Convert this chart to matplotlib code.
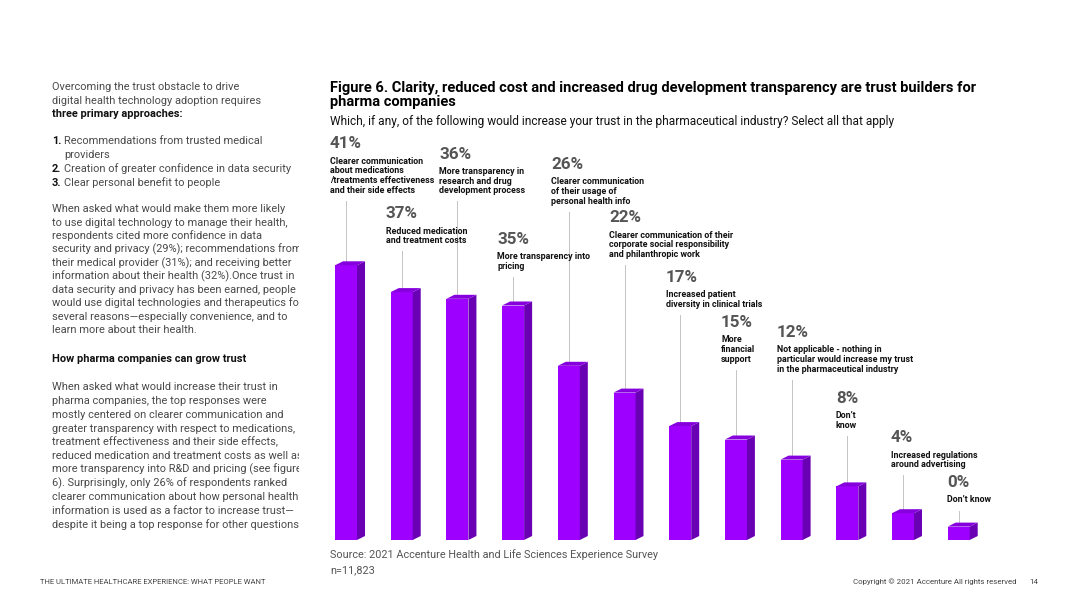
import matplotlib
matplotlib.use("Agg")
import matplotlib.pyplot as plt
from matplotlib.patches import Polygon
from matplotlib.transforms import Bbox

# ---------------- data ----------------
pct_labels = ["41%", "37%", "36%", "35%", "26%", "22%", "17%", "15%", "12%", "8%", "4%", "0%"]
values = [41, 37, 36, 35, 26, 22, 17, 15, 12, 8, 4, 0]
descriptions = [
    ["Clearer communication", "about medications", "/treatments effectiveness", "and their side effects"],
    ["Reduced medication", "and treatment costs"],
    ["More transparency in", "research and drug", "development process"],
    ["More transparency into", "pricing"],
    ["Clearer communication", "of their usage of", "personal health info"],
    ["Clearer communication of their", "corporate social responsibility", "and philanthropic work"],
    ["Increased patient", "diversity in clinical trials"],
    ["More", "financial", "support"],
    ["Not applicable - nothing in", "particular would increase my trust", "in the pharmaceutical industry"],
    ["Don\u2019t", "know"],
    ["Increased regulations", "around advertising"],
    ["Don\u2019t know"],
]

title_lines = ["Figure 6. Clarity, reduced cost and increased drug development transparency are trust builders for",
               "pharma companies"]
subtitle = "Which, if any, of the following would increase your trust in the pharmaceutical industry? Select all that apply"
source_lines = ["Source: 2021 Accenture Health and Life Sciences Experience Survey", "n=11,823"]
footer_left = "THE ULTIMATE HEALTHCARE EXPERIENCE: WHAT PEOPLE WANT"
footer_right = "Copyright \u00a9 2021 Accenture All rights reserved"
page_no = "14"

intro_lines = ["Overcoming the trust obstacle to drive",
               "digital health technology adoption requires"]
intro_bold = "three primary approaches:"
numbered = [("1.", "Recommendations from trusted medical"), ("", "providers"),
            ("2.", "Creation of greater confidence in data security"),
            ("3.", "Clear personal benefit to people")]
para1 = ["When asked what would make them more likely",
         "to use digital technology to manage their health,",
         "respondents cited more confidence in data",
         "security and privacy (29%); recommendations from",
         "their medical provider (31%); and receiving better",
         "information about their health (32%).Once trust in",
         "data security and privacy has been earned, people",
         "would use digital technologies and therapeutics for",
         "several reasons\u2014especially convenience, and to",
         "learn more about their health."]
heading2 = "How pharma companies can grow trust"
para2 = ["When asked what would increase their trust in",
         "pharma companies, the top responses were",
         "mostly centered on clearer communication and",
         "greater transparency with respect to medications,",
         "treatment effectiveness and their side effects,",
         "reduced medication and treatment costs as well as",
         "more transparency into R&D and pricing (see figure",
         "6). Surprisingly, only 26% of respondents ranked",
         "clearer communication about how personal health",
         "information is used as a factor to increase trust\u2014",
         "despite it being a top response for other questions."]

# ---------------- layout / style ----------------
W, H = 1080, 608
FRONT = "#9E00FF"
SIDE = "#6A00B4"
TOP = "#8500DD"
FAM = ["Roboto", "DejaVu Sans"]

fig = plt.figure(figsize=(W / 100, H / 100), dpi=100)
fig.patch.set_facecolor("white")
renderer = fig.canvas.get_renderer()


def P(x, y):
    return (x / W, 1 - y / H)


def fit_size(s, target, **kw):
    t = fig.text(0, 0, s, fontsize=10, family=FAM, **kw)
    w = t.get_window_extent(renderer).width
    t.remove()
    return 10 * target / w


def txt(x, y, s, size, **kw):
    kw.setdefault("va", "baseline")
    kw.setdefault("family", FAM)
    return fig.text(*P(x, y), s, fontsize=size, **kw)


# ---------------- left column ----------------
body_color = "#4a4a4a"
BW = "normal"
bs = fit_size(intro_lines[1], 207, weight=BW)
clip = Bbox.from_extents(0, 0, 299, H)
y = 89.5
for s in intro_lines:
    txt(52, y, s, bs, weight=BW, color=body_color)
    y += 14
txt(52, y, intro_bold, bs, weight="bold", color="#111111")
y = 143.5
for num, s in numbered:
    if num:
        txt(52, y, num, bs, weight="bold", color="#111111")
    txt(64.5, y, s, bs, weight=BW, color=body_color)
    y += 14
y = 212.5
for s in para1:
    t = txt(52, y, s, bs, weight=BW, color=body_color)
    t.set_clip_box(clip)
    t.set_clip_on(True)
    y += 13.4
txt(52, 361.5, heading2, bs, weight="bold", color="#111111")
y = 390.5
for s in para2:
    t = txt(52, y, s, bs, weight=BW, color=body_color)
    t.set_clip_box(clip)
    t.set_clip_on(True)
    y += 13.7

# ---------------- titles ----------------
ts = fit_size(title_lines[0], 648, weight="bold")
txt(330, 92, title_lines[0], ts, weight="bold", color="#000000")
txt(330, 106, title_lines[1], ts, weight="bold", color="#000000")
ss = fit_size(subtitle, 567)
txt(330, 125.5, subtitle, ss, color="#111111")

# ---------------- bars ----------------
ax = fig.add_axes([320 / W, 68 / H, 680 / W, 420 / H])
ypx_per_unit = 6.7
ax.set_xlim(-0.467, (1000 - 346) / 55.7)
ax.set_ylim(0, 420 / ypx_per_unit)
ax.axis("off")

bw = 22 / 55.7
dx = 8 / 55.7
dy = 4 / ypx_per_unit
min_h = 2.0
xs = list(range(len(values)))
disp = [max(v, min_h) for v in values]
ax.bar(xs, disp, width=bw, color=FRONT, zorder=3, linewidth=0)
for x, h in zip(xs, disp):
    L, R = x - bw / 2, x + bw / 2
    ax.add_patch(Polygon([(R, 0), (R + dx, dy), (R + dx, h + dy), (R, h)],
                         closed=True, facecolor=SIDE, edgecolor="none", zorder=3))
    ax.add_patch(Polygon([(L, h), (L + dx, h + dy), (R + dx, h + dy), (R, h)],
                         closed=True, facecolor=TOP, edgecolor="none", zorder=3))

# ---------------- labels ----------------
label_x = [330, 386, 439, 497, 551, 609, 666, 721, 777, 836, 891, 947]
pct_base = [148, 218, 158.5, 244, 169, 222, 282, 327, 337, 403, 442, 487]
ps = fit_size("41%", 32, weight="bold")
dsz = fit_size("Clearer communication", 93, weight="bold")
inv = ax.transData.inverted()
for i, (lx, pb) in enumerate(zip(label_x, pct_base)):
    txt(lx, pb, pct_labels[i], ps, weight="bold", color="#555555")
    yy = pb + 15.5
    for s in descriptions[i]:
        txt(lx, yy, s, dsz, weight="bold", color="#111111")
        yy += 9.7
    line_top_px = yy - 9.7 + 8
    ytop = inv.transform((0, H - line_top_px))[1]
    ax.plot([xs[i], xs[i]], [disp[i] + dy * 0.4, ytop], color="#c4c4c4", lw=0.7, zorder=2)

# ---------------- source & footer ----------------
srs = fit_size(source_lines[0], 327)
txt(330, 558, source_lines[0], srs, color="#555555")
txt(330, 573, source_lines[1], srs, color="#555555")
fs = fit_size(footer_left, 225)
txt(40, 584, footer_left, fs, color="#444444")
cs = fit_size(footer_right, 163)
txt(853, 584, footer_right, cs, color="#444444")
txt(1029, 584, page_no, cs, color="#444444")

fig.savefig("out.png", dpi=100, facecolor="white")
